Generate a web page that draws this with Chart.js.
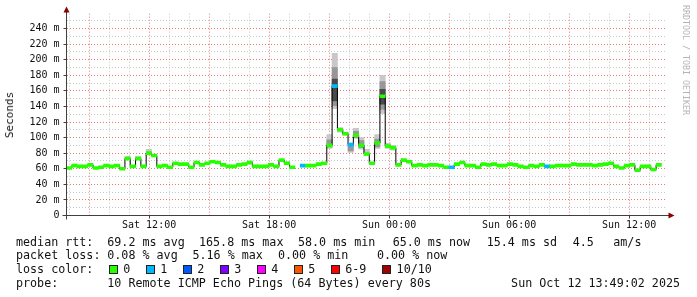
<!DOCTYPE html>
<html>
<head>
<meta charset="utf-8">
<script src="https://cdn.jsdelivr.net/npm/chart.js@4/dist/chart.umd.min.js"></script>
<style>
  html, body { margin: 0; padding: 0; background: #fff; }
  #wrap { position: relative; width: 697px; height: 297px; overflow: hidden; }
  .txt { position: absolute; font-family: "DejaVu Sans Mono", monospace; color: #111; white-space: pre; font-size: 11.7px; line-height: 14px; }
  .vlabel { left: 10px; top: 114.5px; font-size: 11px; transform: translate(-50%, -50%) rotate(-90deg); }
  .credit { left: 681px; top: 5px; font-size: 8.3px; line-height: 10px; color: #b4b4b4; writing-mode: vertical-rl; }
  .box { position: absolute; width: 7px; height: 7px; border: 1px solid #222; top: 265px; }
</style>
</head>
<body>
<div id="wrap">
  <canvas id="pingChart" width="697" height="297"></canvas>
  <div class="txt vlabel">Seconds</div>
  <div class="txt credit">RRDTOOL / TOBI OETIKER</div>
</div>
<script>
// 时间轴（小时，从周六 00:00 起算）
const startHour = 7.87;
const endHour = 37.87;
const stepHours = 0.2656;

// 中位数 RTT（ms），每个采样一个值，null 为缺失
const medianRtt = [
  61, 64, 63, 63, 65, 61, 62, 64, 63, 64,
  60, 73, 63, 73, 63, 80, 77, 63, 64, 62,
  67, 66, 66, 62, 68, 65, 67, 69, 68, 65,
  63, 63, 65, 66, 68, 63, 63, 63, 65, 63,
  71, 67, 62, null, 64, 64, 64, 66, 67, 90,
  166, 110, 105, 91, 103, 90, 79, 67, 93, 153,
  89, 87, 65, 71, 69, 64, 65, 64, 65, 65,
  64, 62, 62, 66, 68, 64, 64, 62, 66, 65,
  66, 64, 64, 66, 65, 63, 62, 64, 63, 65,
  63, 63, 64, 64, 64, 66, 65, 65, 65, 64,
  65, 66, 67, 63, 61, 64, 65, 58, 63, 63,
  59, 65
];

// 有丢包的采样（其余为 0）
const lossSteps = [44, 50, 53, 72, 90];
const lossCounts = [1, 1, 1, 1, 1];

// 烟雾（ping 分布），外层 / 中层 / 内层
const outerIdx = [11, 13, 15, 34, 41, 49, 50, 51, 52, 53, 54, 55, 56, 58, 59, 60, 61];
const outerLo = [73, 73, 79, 66, 66, 86, 137, 107, 103, 81, 99, 85, 77, 86, 131, 86, 84];
const outerHi = [76, 76, 85, 70, 69, 104, 208, 113, 107, 93, 112, 100, 85, 104, 180, 93, 90];
const midIdx = [49, 50, 53, 54, 55, 58, 59];
const midLo = [88, 141, 83, 100, 87, 88, 136];
const midHi = [97, 190, 90, 108, 96, 98, 172];
const coreIdx = [50, 59];
const coreLo = [147, 143];
const coreHi = [175, 162];

// 刻度
const xTickHours = [12, 18, 24, 30, 36];
const xTickLabels = ['Sat 12:00', 'Sat 18:00', 'Sun 00:00', 'Sun 06:00', 'Sun 12:00'];
const yTickLabels = ['0', '20 m', '40 m', '60 m', '80 m', '100 m', '120 m', '140 m', '160 m', '180 m', '200 m', '220 m', '240 m'];

// 图例
const lossColors = ['#26ff00', '#00b8ff', '#0059ff', '#7e00ff', '#ff00ff', '#ff5500', '#ff0000', '#a10000'];
const lossLabels = ['0', '1', '2', '3', '4', '5', '6-9', '10/10'];
const rttStats = ['69.2 ms avg', '165.8 ms max', '58.0 ms min', '65.0 ms now', '15.4 ms sd', '4.5', 'am/s'];
const lossStats = ['0.08 % avg', '5.16 % max', '0.00 % min', '0.00 % now'];
const probeText = '10 Remote ICMP Echo Pings (64 Bytes) every 80s';
const stampText = 'Sun Oct 12 13:49:02 2025';

const MONO = '"DejaVu Sans Mono", monospace';
const GRID_MAJOR = 'rgb(232, 120, 120)';
const GRID_MINOR = 'rgb(200, 200, 200)';

function stepX(i) {
  return startHour + (i + 0.5) * stepHours;
}

function bands(idx, lo, hi) {
  return idx.map((i, k) => ({ x: stepX(i), y: [lo[k], hi[k]] }));
}

function lossOf(i) {
  const k = lossSteps.indexOf(i);
  return k < 0 ? 0 : lossCounts[k];
}

// 整点刻度
function hourTicks(scale) {
  const ticks = [];
  for (let h = Math.ceil(startHour); h <= Math.floor(endHour); h++) {
    ticks.push({ value: h });
  }
  scale.ticks = ticks;
}

// 坐标轴与箭头
const axisArrows = {
  id: 'axisArrows',
  afterDraw(chart) {
    const { ctx, chartArea: a } = chart;
    ctx.save();
    ctx.strokeStyle = '#404040';
    ctx.lineWidth = 1;
    ctx.beginPath();
    ctx.moveTo(a.left, 10);
    ctx.lineTo(a.left, a.bottom + 4);
    ctx.moveTo(a.left - 4, a.bottom);
    ctx.lineTo(670, a.bottom);
    ctx.stroke();
    ctx.fillStyle = '#8b0000';
    ctx.beginPath();
    ctx.moveTo(a.left, 6.5);
    ctx.lineTo(a.left - 3, 12.5);
    ctx.lineTo(a.left + 3, 12.5);
    ctx.closePath();
    ctx.fill();
    ctx.beginPath();
    ctx.moveTo(674.5, a.bottom);
    ctx.lineTo(668.5, a.bottom - 3);
    ctx.lineTo(668.5, a.bottom + 3);
    ctx.closePath();
    ctx.fill();
    ctx.restore();
  }
};

function createPingChart() {
  const ctx = document.getElementById('pingChart').getContext('2d');
  const medianPoints = medianRtt.map((v, i) => ({ x: stepX(i), y: v }));
  const medianBars = medianRtt.map((v, i) => ({ x: stepX(i), y: v === null ? null : [v - 1.9, v + 1.9] }));
  const barStyle = { type: 'bar', grouped: false, barPercentage: 1, categoryPercentage: 1 };

  return new Chart(ctx, {
    data: {
      datasets: [
        Object.assign({}, barStyle, {
          data: medianBars,
          backgroundColor: c => lossColors[lossOf(c.dataIndex)],
          order: 1
        }),
        {
          type: 'line',
          data: medianPoints,
          borderColor: '#000',
          borderWidth: 1,
          pointRadius: 0,
          stepped: 'middle',
          spanGaps: false,
          order: 2
        },
        Object.assign({}, barStyle, { data: bands(coreIdx, coreLo, coreHi), backgroundColor: '#4a4a4a', order: 3 }),
        Object.assign({}, barStyle, { data: bands(midIdx, midLo, midHi), backgroundColor: '#979797', order: 4 }),
        Object.assign({}, barStyle, { data: bands(outerIdx, outerLo, outerHi), backgroundColor: '#c8c8c8', order: 5 })
      ]
    },
    options: {
      responsive: false,
      animation: false,
      layout: { padding: { left: 0, top: 13.7, right: 30.5, bottom: 0 } },
      plugins: {
        legend: { display: false },
        tooltip: { enabled: false }
      },
      scales: {
        x: {
          type: 'linear',
          position: 'bottom',
          min: startHour,
          max: endHour,
          offset: false,
          afterFit: s => { s.height = 81.5; },
          afterBuildTicks: hourTicks,
          border: { display: false, dash: [1, 2] },
          grid: {
            offset: false,
            color: c => (c.tick && c.tick.value % 3 === 0 ? GRID_MAJOR : GRID_MINOR),
            tickLength: 3,
            tickColor: c => (c.tick && xTickHours.includes(c.tick.value) ? '#404040' : 'rgba(0,0,0,0)')
          },
          ticks: {
            autoSkip: false,
            maxRotation: 0,
            padding: 1,
            color: '#111',
            font: { family: MONO, size: 10 },
            callback: v => {
              const k = xTickHours.indexOf(v);
              return k < 0 ? '' : xTickLabels[k];
            }
          }
        },
        y: {
          min: 0,
          max: 259,
          afterFit: s => { s.width = 66.5; },
          border: { display: false, dash: [1, 2] },
          grid: {
            color: c => (c.tick && c.tick.value % 20 === 0 ? GRID_MAJOR : GRID_MINOR),
            tickLength: 3,
            tickColor: c => (c.tick && c.tick.value % 20 === 0 && c.tick.value <= 240 ? '#404040' : 'rgba(0,0,0,0)')
          },
          ticks: {
            stepSize: 10,
            includeBounds: false,
            autoSkip: false,
            padding: 4,
            color: '#111',
            font: { family: MONO, size: 10 },
            callback: v => (v % 20 === 0 && v / 20 < yTickLabels.length ? yTickLabels[v / 20] : '')
          }
        }
      }
    },
    plugins: [axisArrows]
  });
}

function addText(text, left, top) {
  const el = document.createElement('div');
  el.className = 'txt';
  el.style.left = left + 'px';
  el.style.top = top + 'px';
  el.textContent = text;
  document.getElementById('wrap').appendChild(el);
  return el;
}

function buildLegend() {
  const rows = [234.7, 248, 262.3, 276.3];
  const rttX = [107.3, 199, 298, 392.7, 486.7, 572.7, 613.3];
  const lossX = [107.3, 192.5, 278, 377];
  const boxX = [108.7, 145.7, 182.7, 219.7, 256.7, 293.7, 330.7, 382];

  addText('median rtt:', 16, rows[0]);
  rttStats.forEach((t, k) => addText(t, rttX[k], rows[0]));
  addText('packet loss:', 16, rows[1]);
  lossStats.forEach((t, k) => addText(t, lossX[k], rows[1]));
  addText('loss color:', 16, rows[2]);
  lossColors.forEach((col, k) => {
    const box = document.createElement('div');
    box.className = 'box';
    box.style.left = boxX[k] + 'px';
    box.style.background = col;
    document.getElementById('wrap').appendChild(box);
    addText(lossLabels[k], boxX[k] + 14.6, rows[2]);
  });
  addText('probe:', 16, rows[3]);
  addText(probeText, 107.3, rows[3]);
  const stamp = addText(stampText, 0, rows[3]);
  stamp.style.left = '';
  stamp.style.right = '17px';
}

buildLegend();
createPingChart();
</script>
</body>
</html>
